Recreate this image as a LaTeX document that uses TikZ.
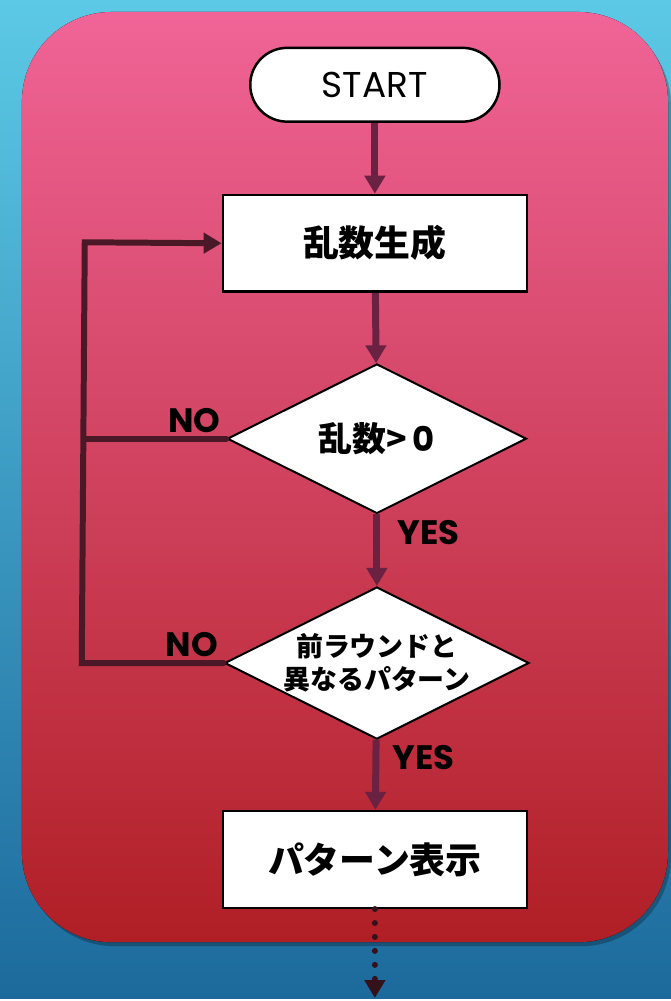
\documentclass[tikz,border=0pt]{standalone}
\usepackage{fontspec}
\setmainfont{Poppins}
\newfontfamily\jp{Noto Sans CJK JP}
\usetikzlibrary{shapes.geometric,arrows.meta,positioning}
\definecolor{skytop}{HTML}{5CC9E6}
\definecolor{skybot}{HTML}{1C6A9C}
\definecolor{cardtop}{HTML}{F06497}
\definecolor{cardbot}{HTML}{B01F25}
\definecolor{wine}{HTML}{6A2142}
\definecolor{darkwine}{HTML}{4A1827}

\begin{document}
\begin{tikzpicture}[x=1bp,y=-1bp,
  pill/.style={draw,line width=2.5bp,fill=white,rounded corners=37bp,minimum width=250bp,minimum height=74bp,font=\fontsize{36bp}{40bp}\selectfont},
  box/.style={draw,line width=2.5bp,fill=white,minimum width=305bp,minimum height=97bp,font=\jp\bfseries\fontsize{36bp}{40bp}\selectfont},
  decision/.style={draw,line width=2bp,fill=white,diamond,aspect=2,inner sep=0pt,minimum width=300bp,minimum height=150bp,align=center},
  flow/.style={wine,line width=7bp,-{Triangle[length=18bp,width=20bp]}},
  back/.style={darkwine,line width=6bp,line cap=round},
  lbl/.style={text=black,font=\bfseries\fontsize{34bp}{38bp}\selectfont,inner sep=3bp}]

% background and card
\fill[top color=skytop,bottom color=skybot] (0,0) rectangle (673,1001);
\fill[black,opacity=0.25,rounded corners=90bp] (25,16) rectangle (673,949);
\fill[top color=cardtop,bottom color=cardbot,rounded corners=90bp] (22,12) rectangle (670,945);

% nodes
\node[pill] (start) at (376,85) {START};
\node[box] (gen) at (376,244) {乱数生成};
\node[decision,font=\bfseries\fontsize{34bp}{38bp}\selectfont] (chk) at (378,440) {{\jp 乱数>}\,0};
\node[decision,font=\jp\bfseries\fontsize{27bp}{33bp}\selectfont] (diff) at (378,665) {前ラウンドと\\異なるパターン};
\node[box] (show) at (376,862) {パターン表示};
\coordinate (c0) at (85,243);
\coordinate (c1) at (85,440);
\coordinate (c2) at (82,665);
\coordinate (end) at (376,1001);

% connectors
\draw[flow] (start) -- (gen);
\draw[flow] (gen) -- (chk);
\draw[flow] (chk) -- node[lbl,pos=0.25,anchor=west,xshift=14bp] {YES} (diff);
\draw[flow] (diff) -- node[lbl,pos=0.25,anchor=west,xshift=10bp] {YES} (show);
\draw[back] (chk.west) -- node[lbl,pos=0,above left] {NO} (c1);
\draw[back,-{Triangle[length=18bp,width=20bp]}] (diff.west) -- node[lbl,pos=0,above left] {NO} (c2) -- (c0) -- (gen.west);
\draw[color=darkwine!70!black,line width=6bp,line cap=round,dash pattern=on 0bp off 14bp,-{Triangle[length=18bp,width=20bp]}] (show) -- (end);
\end{tikzpicture}
\end{document}
